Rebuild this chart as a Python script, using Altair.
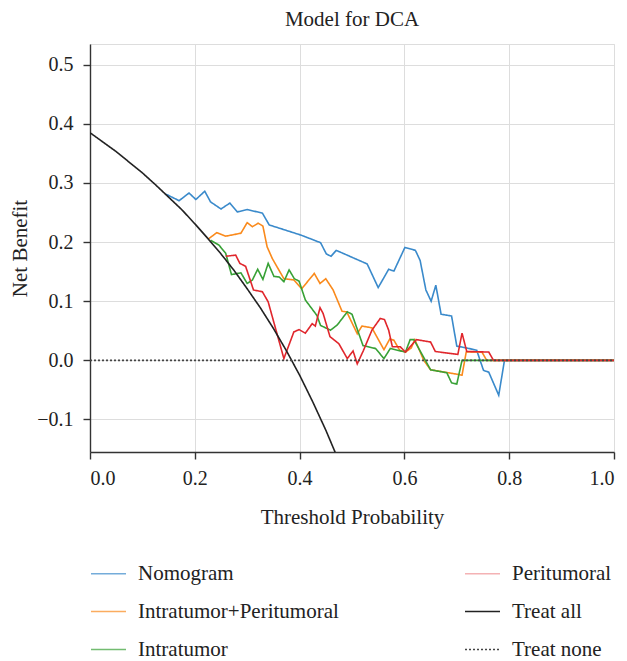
import altair as alt
import pandas as pd

# ---- data ----
nomo_x = [0.145, 0.170, 0.189, 0.202, 0.219, 0.230, 0.250, 0.267, 0.281, 0.300, 0.329, 0.342,
          0.402, 0.440, 0.451, 0.460, 0.470, 0.529, 0.550, 0.570, 0.580, 0.601, 0.621, 0.630,
          0.641, 0.651, 0.660, 0.670, 0.690, 0.700, 0.719, 0.738, 0.751, 0.761, 0.780, 0.791, 1.0]
nomo_y = [0.281, 0.270, 0.283, 0.272, 0.286, 0.268, 0.256, 0.266, 0.251, 0.255, 0.249, 0.229,
          0.212, 0.199, 0.180, 0.176, 0.186, 0.163, 0.123, 0.154, 0.151, 0.191, 0.186, 0.169,
          0.119, 0.100, 0.127, 0.078, 0.075, 0.024, 0.021, 0.017, -0.017, -0.020, -0.059, 0.0, 0.0]

ip_x = [0.227, 0.242, 0.259, 0.288, 0.300, 0.310, 0.321, 0.330, 0.338, 0.348, 0.370, 0.389,
        0.404, 0.428, 0.439, 0.450, 0.464, 0.481, 0.490, 0.510, 0.519, 0.538, 0.561, 0.572,
        0.580, 0.591, 0.602, 0.613, 0.620, 0.637, 0.650, 0.684, 0.710, 0.718, 0.748, 0.757, 1.0]
ip_y = [0.206, 0.216, 0.210, 0.215, 0.233, 0.226, 0.232, 0.227, 0.192, 0.172, 0.138, 0.136,
        0.121, 0.147, 0.130, 0.138, 0.119, 0.083, 0.082, 0.045, 0.058, 0.055, 0.018, 0.036,
        0.034, 0.017, 0.014, 0.021, 0.035, 0.0, -0.016, -0.021, -0.025, 0.014, 0.014, 0.0, 0.0]

intra_x = [0.230, 0.246, 0.259, 0.270, 0.288, 0.300, 0.310, 0.320, 0.330, 0.340, 0.351, 0.361,
           0.370, 0.380, 0.390, 0.399, 0.411, 0.433, 0.440, 0.459, 0.472, 0.491, 0.500, 0.521,
           0.545, 0.561, 0.573, 0.602, 0.611, 0.618, 0.650, 0.681, 0.690, 0.700, 0.710, 1.0]
intra_y = [0.203, 0.195, 0.181, 0.145, 0.148, 0.130, 0.136, 0.154, 0.137, 0.164, 0.142, 0.141,
           0.133, 0.153, 0.138, 0.134, 0.102, 0.076, 0.059, 0.051, 0.060, 0.082, 0.078, 0.025,
           0.020, 0.003, 0.020, 0.014, 0.035, 0.035, -0.016, -0.021, -0.038, -0.040, 0.0, 0.0]

peri_x = [0.259, 0.278, 0.286, 0.297, 0.312, 0.329, 0.340, 0.370, 0.389, 0.399, 0.411, 0.424,
          0.430, 0.439, 0.445, 0.458, 0.475, 0.491, 0.502, 0.510, 0.522, 0.538, 0.554, 0.562,
          0.570, 0.577, 0.592, 0.602, 0.623, 0.650, 0.659, 0.702, 0.710, 0.719, 0.761, 0.770, 1.0]
peri_y = [0.176, 0.178, 0.164, 0.159, 0.119, 0.116, 0.099, 0.003, 0.048, 0.052, 0.046, 0.062,
          0.058, 0.089, 0.079, 0.040, 0.028, 0.003, 0.016, -0.006, 0.017, 0.051, 0.071, 0.069,
          0.051, 0.023, 0.023, 0.014, 0.035, 0.031, 0.015, 0.010, 0.046, 0.015, 0.014, 0.0, 0.0]

all_x = [0.0, 0.025, 0.05, 0.075, 0.1, 0.125, 0.15, 0.175, 0.2, 0.225, 0.25, 0.275,
         0.3, 0.325, 0.35, 0.375, 0.4, 0.425, 0.45, 0.47]
all_y = [0.385, 0.369, 0.353, 0.335, 0.317, 0.297, 0.276, 0.255, 0.231, 0.206, 0.180, 0.152,
         0.121, 0.089, 0.054, 0.016, -0.025, -0.070, -0.118, -0.160]

none_x = [0.0, 1.0]
none_y = [0.0, 0.0]

x_ticks = [0.0, 0.2, 0.4, 0.6, 0.8, 1.0]
y_ticks = [-0.1, 0.0, 0.1, 0.2, 0.3, 0.4, 0.5]

series = [
    ("Nomogram", nomo_x, nomo_y),
    ("Intratumor+Peritumoral", ip_x, ip_y),
    ("Intratumor", intra_x, intra_y),
    ("Peritumoral", peri_x, peri_y),
    ("Treat all", all_x, all_y),
    ("Treat none", none_x, none_y),
]
rows = []
for name, xs, ys in series:
    for i, (xv, yv) in enumerate(zip(xs, ys)):
        rows.append({"series": name, "x": xv, "y": yv, "i": i})
df = pd.DataFrame(rows)

# legend order (filled column by column, 3 rows)
legend_domain = ["Nomogram", "Intratumor+Peritumoral", "Intratumor", "Peritumoral",
                 "Treat all", "Treat none"]
color_map = {
    "Nomogram": "#3a8acb",
    "Peritumoral": "#e0262c",
    "Intratumor+Peritumoral": "#fa8a1c",
    "Treat all": "#222222",
    "Intratumor": "#38a136",
    "Treat none": "#444444",
}
dash_map = {k: [1, 0] for k in legend_domain}
dash_map["Treat none"] = [2, 2]

FONT = "Liberation Serif"
TXT = "#222222"

legend = alt.Legend(
    title=None, orient="none", legendX=0, legendY=511, columns=2,
    symbolType="stroke", symbolSize=1225, symbolStrokeWidth=1.5,
    symbolOpacity=alt.ExprRef("datum.value === 'Peritumoral' ? 0.35 : (datum.value === 'Treat all' || datum.value === 'Treat none' ? 1 : 0.7)"),
    labelFont=FONT, labelFontSize=21, labelColor=TXT, labelOffset=11, labelLimit=400,
    rowPadding=9, columnPadding=123, padding=0,
)

chart = alt.Chart(df).mark_line(strokeWidth=1.6, clip=True).encode(
    x=alt.X("x:Q", scale=alt.Scale(domain=[0, 1], nice=False),
            axis=alt.Axis(values=x_ticks, format=".1f", title="Threshold Probability")),
    y=alt.Y("y:Q", scale=alt.Scale(domain=[-0.155, 0.535], nice=False, zero=False),
            axis=alt.Axis(values=y_ticks, format=".1f", title="Net Benefit")),
    color=alt.Color("series:N", scale=alt.Scale(domain=legend_domain,
                                                range=[color_map[k] for k in legend_domain]),
                    legend=legend),
    strokeDash=alt.StrokeDash("series:N", scale=alt.Scale(domain=legend_domain,
                                                          range=[dash_map[k] for k in legend_domain]),
                              legend=legend),
    detail="series:N",
    order="i:Q",
).properties(
    width=524, height=408,
    title=alt.TitleParams("Model for DCA", font=FONT, fontSize=21, fontWeight="normal",
                          color=TXT, offset=14),
    autosize=alt.AutoSizeParams(type="none"),
    padding={"left": 82, "top": 36, "right": 5, "bottom": 209},
).configure_view(
    stroke="#dddddd", strokeWidth=1
).configure_axis(
    grid=True, gridColor="#dddddd", gridWidth=1,
    domainColor="#333333", domainWidth=1.4,
    tickColor="#333333", tickWidth=1.4, tickSize=7,
    labelFont=FONT, labelFontSize=20, labelColor=TXT,
    titleFont=FONT, titleFontSize=21, titleFontWeight="normal", titleColor=TXT,
).configure_axisX(
    labelPadding=9, titlePadding=18,
).configure_axisY(
    labelPadding=10, titlePadding=6,
)

chart.save("out.html", embed_options={"renderer": "svg", "actions": False})
